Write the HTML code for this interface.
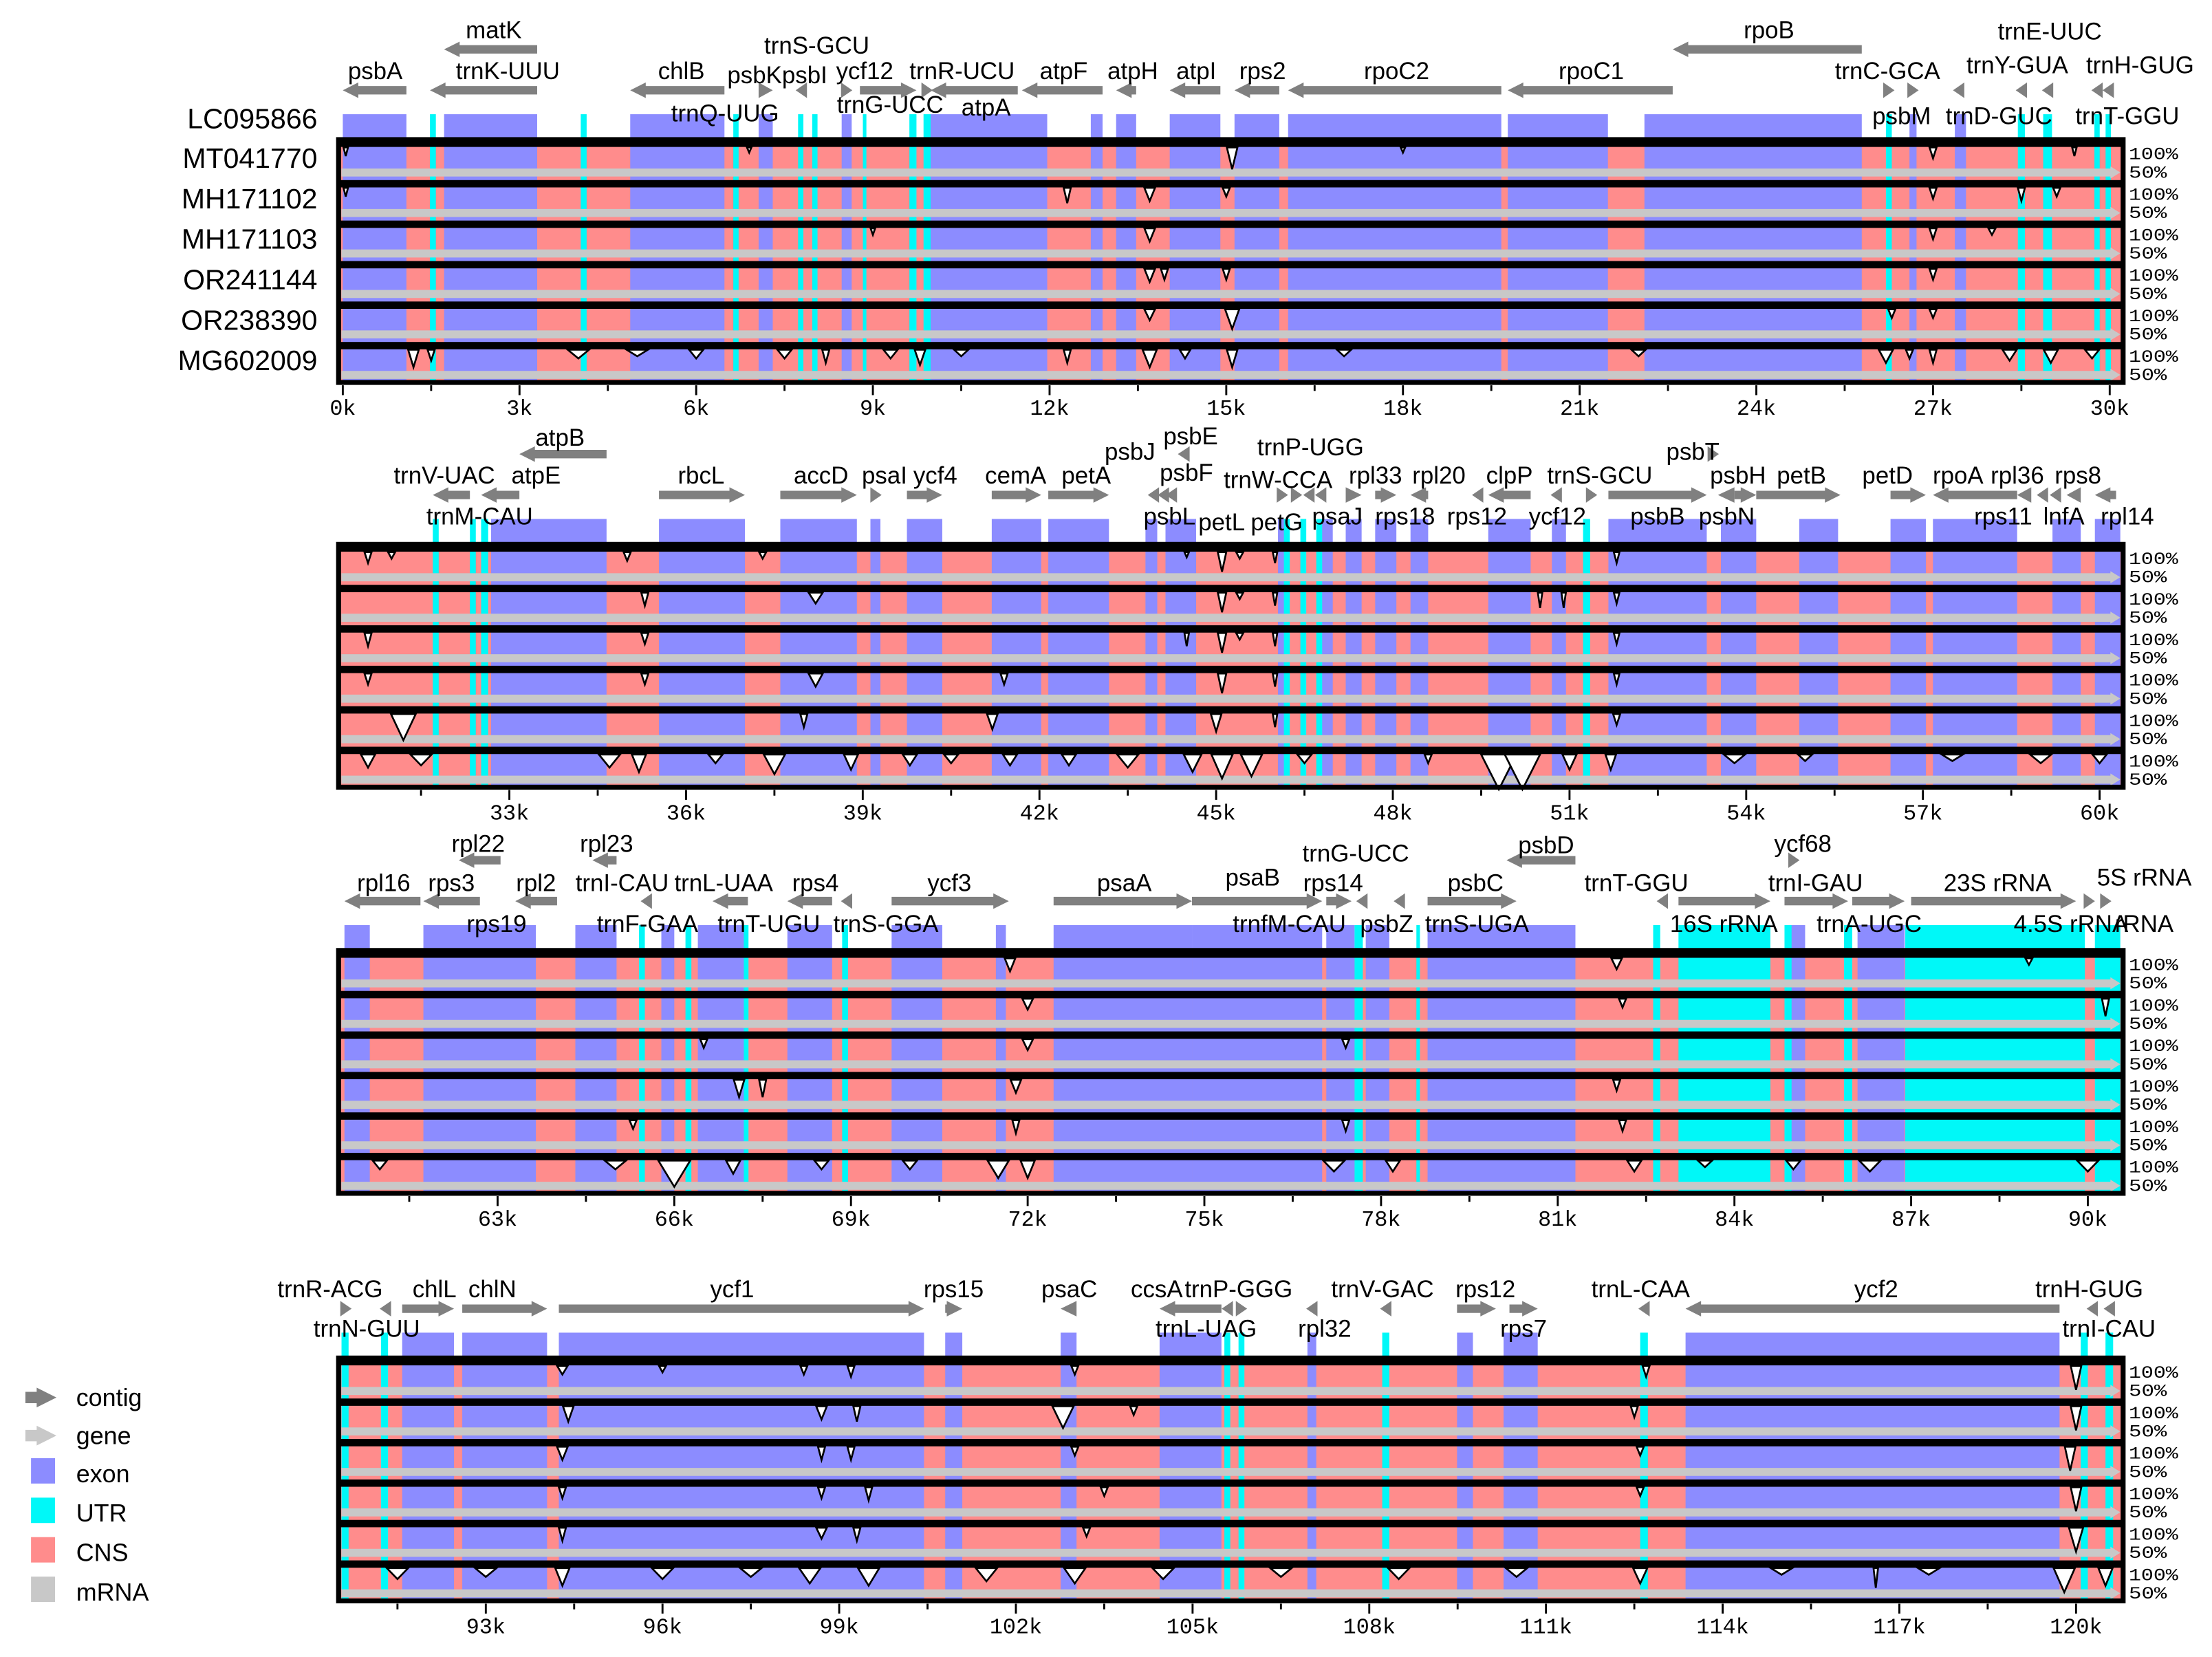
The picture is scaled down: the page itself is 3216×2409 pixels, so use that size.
<!DOCTYPE html>
<html><head><meta charset="utf-8"><title>mVISTA plot</title>
<style>
html,body{margin:0;padding:0;background:#fff;}
svg{display:block;}
text{font-family:"Liberation Sans",Arial,sans-serif;}
.mono{font-family:"Liberation Mono","DejaVu Sans Mono",monospace;}
</style></head>
<body>
<svg id="chart" xmlns="http://www.w3.org/2000/svg" width="3216" height="2409" viewBox="0 0 1568 1175" preserveAspectRatio="none">
<g id="legend">
  <g><polygon points="18,987 26,987 26,984 40,991 26,998 26,995 18,995" fill="#808080"/><text x="54" y="997" font-size="17.5">contig</text></g>
  <g><polygon points="18,1014 26,1014 26,1011 40,1018 26,1025 26,1022 18,1022" fill="#c8c8c8"/><text x="54" y="1024" font-size="17.5">gene</text></g>
  <g><rect x="22" y="1034" width="17" height="18" fill="#8c8cff"/><text x="54" y="1051" font-size="17.5">exon</text></g>
  <g><rect x="22" y="1062" width="17" height="18" fill="#00f8f8"/><text x="54" y="1079" font-size="17.5">UTR</text></g>
  <g><rect x="22" y="1090" width="17" height="18" fill="#ff8c8c"/><text x="54" y="1107" font-size="17.5">CNS</text></g>
  <g><rect x="22" y="1118" width="17" height="18" fill="#c8c8c8"/><text x="54" y="1135" font-size="17.5">mRNA</text></g>
</g>
</svg>
<script>
// ---------- data ----------
const sampleNames = ["MT041770","MH171102","MH171103","OR241144","OR238390","MG602009"];
const referenceName = "LC095866";
const panelStarts = [0, 30.1, 60.3, 90.5];
const panelEnds = [30.3, 60.4, 90.6, 120.8];
const tickValues = [[0,3,6,9,12,15,18,21,24,27,30],[33,36,39,42,45,48,51,54,57,60],[63,66,69,72,75,78,81,84,87,90],[93,96,99,102,105,108,111,114,117,120]];
const tickLabels = [["0k","3k","6k","9k","12k","15k","18k","21k","24k","27k","30k"],["33k","36k","39k","42k","45k","48k","51k","54k","57k","60k"],["63k","66k","69k","72k","75k","78k","81k","84k","87k","90k"],["93k","96k","99k","102k","105k","108k","111k","114k","117k","120k"]];

const exons = [
 [[0,1.08],[1.72,3.3],[4.88,6.48],[7.06,7.3],[8.47,8.64],[9.98,11.96],[12.7,12.9],[13.13,13.47],[14.04,14.9],[15.14,15.9],[16.05,19.67],[19.78,21.48],[22.1,25.79],[26.6,26.72],[27.37,27.56]],
 [[32.69,34.65],[35.54,37.0],[37.6,38.9],[39.13,39.3],[39.75,40.35],[41.19,42.03],[42.15,43.18],[43.8,44.0],[44.14,44.66],[46.05,46.2],[46.77,46.98],[47.2,47.47],[47.7,48.06],[48.3,48.6],[49.62,50.34],[50.7,50.94],[51.66,53.33],[53.57,54.17],[54.9,55.56],[56.45,57.05],[57.17,58.6],[59.2,59.68],[59.92,60.4]],
 [[60.4,60.83],[61.74,63.65],[64.32,65.02],[65.78,66.0],[66.4,67.25],[67.92,68.68],[69.69,70.55],[71.46,71.63],[72.44,74.79],[74.79,77.0],[77.07,77.55],[77.74,78.14],[78.79,81.3],[84.92,85.2],[86.09,86.89]],
 [[91.58,92.46],[92.6,94.04],[94.24,100.44],[100.8,101.09],[102.76,103.03],[104.44,105.49],[106.95,107.1],[109.49,109.76],[110.28,110.86],[113.37,119.72]]
];
const utrs = [
 [[1.48,1.58],[4.04,4.14],[6.63,6.72],[7.73,7.82],[7.97,8.06],[8.83,8.88],[9.62,9.74],[9.86,9.98],[26.2,26.3],[28.44,28.56],[28.87,29.02],[29.74,29.83],[29.93,30.02]],
 [[31.7,31.8],[32.33,32.43],[32.52,32.64],[46.15,46.25],[46.43,46.53],[46.7,46.8],[51.23,51.35]],
 [[65.4,65.5],[66.19,66.29],[67.18,67.26],[68.85,68.95],[77.55,77.69],[78.6,78.66],[82.62,82.74],[83.05,84.61],[84.85,84.97],[85.86,86.0],[86.9,89.95],[90.12,90.6]],
 [[90.55,90.67],[91.22,91.34],[105.54,105.64],[105.78,105.88],[108.22,108.34],[112.6,112.73],[120.08,120.2],[120.5,120.63]]
];
const genes = [
 [[0,1.08,-1,0],[1.48,3.3,-1,0],[1.72,3.3,-1,1],[4.88,6.48,-1,0],[7.06,7.3,1,0],[7.7,7.87,-1,0],[8.47,8.64,1,0],[8.78,9.74,1,0],[9.86,9.98,1,0],[9.98,11.46,-1,0],[11.53,12.9,-1,0],[13.13,13.47,-1,0],[14.04,14.9,-1,0],[15.14,15.9,-1,0],[16.05,19.67,-1,0],[19.78,22.58,-1,0],[22.58,25.79,-1,1],[26.2,26.3,1,0],[26.6,26.72,1,0],[27.37,27.5,-1,0],[28.44,28.56,-1,0],[28.87,29.02,-1,0],[29.74,29.83,-1,0],[29.93,30.02,-1,0]],
 [[31.7,32.33,-1,0],[32.52,33.17,-1,0],[33.17,34.65,-1,1],[35.54,37.0,1,0],[37.6,38.9,1,0],[39.13,39.32,1,0],[39.75,40.35,1,0],[41.19,42.03,1,0],[42.15,43.18,1,0],[43.87,44.0,-1,0],[44.04,44.17,-1,0],[44.18,44.3,-1,0],[44.35,44.55,-1,1],[46.05,46.2,1,0],[46.29,46.44,1,0],[46.5,46.65,-1,0],[46.7,46.85,-1,0],[47.2,47.47,1,0],[47.7,48.06,1,0],[48.3,48.6,-1,0],[49.38,49.5,-1,0],[49.62,50.34,-1,0],[50.7,50.85,-1,0],[51.3,51.45,1,0],[51.66,53.33,1,0],[53.38,53.5,1,1],[53.52,53.8,-1,0],[53.8,54.17,1,0],[54.17,55.6,1,0],[56.45,57.05,1,0],[57.17,58.6,-1,0],[58.6,58.84,-1,0],[58.96,59.1,-1,0],[59.2,59.3,-1,0],[59.44,59.68,-1,0],[59.92,60.28,-1,0]],
 [[60.4,61.69,-1,0],[61.74,62.7,-1,0],[62.34,63.05,-1,1],[63.3,64.01,-1,0],[64.61,65.02,-1,1],[65.45,65.6,-1,0],[66.65,67.25,-1,0],[67.92,68.68,-1,0],[68.85,69.0,-1,0],[69.69,71.68,1,0],[72.44,74.79,1,0],[74.79,77.0,1,0],[77.07,77.5,1,0],[77.6,77.75,-1,0],[78.22,78.4,-1,0],[78.79,80.3,1,0],[80.13,81.3,-1,1],[82.7,82.85,-1,0],[83.05,84.61,1,0],[84.92,85.1,1,1],[84.85,85.93,1,0],[86.0,86.89,1,0],[87.0,89.8,1,0],[89.95,90.1,1,0],[90.23,90.38,1,0]],
 [[90.55,90.7,1,0],[91.22,91.37,-1,0],[91.58,92.46,1,0],[92.6,94.04,1,0],[94.24,100.44,1,0],[100.8,101.09,1,0],[102.76,103.03,-1,0],[104.44,105.49,-1,0],[105.54,105.64,-1,0],[105.78,105.88,1,0],[106.95,107.1,-1,0],[108.22,108.34,-1,0],[109.49,110.15,1,0],[110.38,110.86,1,0],[112.6,112.73,-1,0],[113.37,119.72,-1,0],[120.2,120.35,-1,0],[120.5,120.63,-1,0]]
];
const geneLabels = [
 [["psbA",266,56],["matK",350,27],["trnK-UUU",360,56],["chlB",483,56],["trnS-GCU",579,38],["psbKpsbI",551,59],["ycf12",613,56],["trnR-UCU",682,56],["atpF",754,56],["atpH",803,56],["atpI",848,56],["rps2",895,56],["rpoC2",990,56],["rpoC1",1128,56],["rpoB",1254,27],["trnC-GCA",1338,56],["trnE-UUC",1453,28],["trnY-GUA",1430,52],["trnH-GUG",1517,52],["trnQ-UUG",514,86],["trnG-UCC",631,80],["atpA",699,82],["psbM",1348,88],["trnD-GUC",1417,88],["trnT-GGU",1508,88]],
 [["atpB",397,316],["trnV-UAC",315,343],["atpE",380,343],["trnM-CAU",340,372],["rbcL",497,343],["accD",582,343],["psaI",627,343],["ycf4",663,343],["cemA",720,343],["petA",770,343],["psbJ",801,326],["psbE",844,315],["psbF",841,341],["psbL",829,372],["petL",866,376],["petG",905,376],["trnW-CCA",906,346],["trnP-UGG",929,323],["psaJ",948,372],["rpl33",975,343],["rps18",996,372],["rpl20",1020,343],["rps12",1047,372],["clpP",1070,343],["ycf12",1104,372],["trnS-GCU",1134,343],["psbT",1200,326],["psbB",1175,372],["psbH",1232,343],["petB",1277,343],["psbN",1224,372],["petD",1338,343],["rpoA",1388,343],["rpl36",1430,343],["rps8",1473,343],["rps11",1420,372],["lnfA",1463,372],["rpl14",1508,372]],
 [["rpl16",272,632],["rpl22",339,604],["rps3",320,632],["rpl2",380,632],["rps19",352,661],["rpl23",430,604],["trnI-CAU",441,632],["trnF-GAA",459,661],["trnL-UAA",513,632],["trnT-UGU",545,661],["rps4",578,632],["trnS-GGA",628,661],["ycf3",673,632],["psaA",797,632],["psaB",888,628],["trnfM-CAU",914,661],["trnG-UCC",961,611],["rps14",945,632],["psbZ",983,661],["trnS-UGA",1047,661],["psbC",1046,632],["psbD",1096,605],["trnT-GGU",1160,632],["16S rRNA",1222,661],["ycf68",1278,604],["trnI-GAU",1287,632],["trnA-UGC",1325,661],["23S rRNA",1416,632],["4.5S rRNA",1468,661],["5S rRNA",1520,628],["rRNA",1520,661]],
 [["trnR-ACG",234,920],["trnN-GUU",260,948],["chlL",308,920],["chlN",349,920],["ycf1",519,920],["rps15",676,920],["psaC",758,920],["ccsA",820,920],["trnP-GGG",878,920],["trnL-UAG",855,948],["trnV-GAC",980,920],["rpl32",939,948],["rps12",1053,920],["rps7",1080,948],["trnL-CAA",1163,920],["ycf2",1330,920],["trnH-GUG",1481,920],["trnI-CAU",1495,948]]
];
const dips = [
 [
  [[15.1,50,0.15],[27.0,75,0.1],[6.9,88,0.05],[29.4,80,0.05],[18.0,88,0.05],[0.05,80,0.05]],
  [[12.3,65,0.1],[13.7,70,0.15],[15.0,80,0.1],[27.0,75,0.1],[28.5,70,0.1],[29.1,80,0.1],[0.05,80,0.05]],
  [[13.7,70,0.15],[27.0,75,0.1],[28.0,85,0.1],[9.0,85,0.05]],
  [[13.7,70,0.15],[15.0,75,0.1],[27.0,75,0.1],[13.95,75,0.1]],
  [[15.1,55,0.2],[13.7,75,0.15],[27.0,80,0.1],[26.3,80,0.1]],
  [[1.2,60,0.15],[1.5,75,0.1],[4.0,80,0.3],[5.0,85,0.3],[6.0,80,0.2],[7.5,80,0.2],[8.2,70,0.1],[9.3,80,0.2],[9.8,65,0.15],[10.5,85,0.2],[12.3,70,0.1],[13.7,60,0.2],[14.3,80,0.15],[15.1,60,0.15],[17.0,85,0.2],[22.0,85,0.2],[26.2,70,0.2],[26.6,80,0.1],[27.0,70,0.1],[28.3,75,0.2],[29.0,70,0.2],[29.7,80,0.2]]
 ],
 [
  [[30.6,75,0.1],[31.0,85,0.1],[35.0,80,0.1],[37.3,85,0.1],[45.1,55,0.12],[45.4,85,0.1],[44.5,88,0.05],[46.0,75,0.05],[51.8,75,0.08]],
  [[35.3,70,0.1],[38.2,75,0.2],[45.1,55,0.12],[45.4,85,0.1],[46.0,70,0.05],[50.5,65,0.05],[50.9,65,0.05],[51.8,75,0.08]],
  [[30.6,70,0.1],[35.3,75,0.1],[44.5,70,0.05],[45.1,55,0.12],[45.4,85,0.1],[46.0,70,0.05],[51.8,75,0.08]],
  [[30.6,75,0.1],[35.3,75,0.1],[38.2,70,0.2],[41.4,75,0.1],[45.1,55,0.12],[46.0,70,0.05],[51.8,75,0.08]],
  [[31.2,40,0.35],[38.0,70,0.1],[41.2,65,0.15],[45.0,60,0.15],[46.0,70,0.05],[51.8,75,0.1]],
  [[30.6,70,0.2],[31.5,75,0.3],[34.7,70,0.3],[35.2,60,0.2],[36.5,80,0.2],[37.5,55,0.3],[38.8,65,0.2],[39.8,75,0.2],[40.5,80,0.2],[41.5,75,0.2],[42.5,75,0.2],[43.5,70,0.3],[44.6,60,0.25],[45.1,45,0.3],[45.6,50,0.3],[46.5,80,0.2],[48.6,80,0.1],[49.8,20,0.5],[50.2,20,0.5],[51.0,65,0.2],[51.7,65,0.15],[53.8,80,0.3],[55.0,85,0.2],[57.5,85,0.3],[59.0,80,0.3],[60.0,80,0.2]]
 ],
 [
  [[71.7,70,0.15],[82.0,75,0.15],[89.0,85,0.1]],
  [[72.0,75,0.15],[90.3,60,0.1],[82.1,80,0.1]],
  [[66.5,80,0.1],[72.0,75,0.15],[77.4,80,0.1]],
  [[67.1,60,0.15],[67.5,60,0.1],[71.8,70,0.15],[82.0,75,0.1]],
  [[65.3,80,0.1],[71.8,70,0.1],[77.4,75,0.1],[82.1,75,0.1]],
  [[61.0,80,0.2],[65.0,80,0.3],[66.0,40,0.45],[67.0,70,0.2],[68.5,80,0.2],[70.0,80,0.2],[71.5,60,0.3],[72.0,60,0.2],[77.2,75,0.3],[78.2,75,0.2],[82.3,75,0.2],[83.5,85,0.2],[85.0,80,0.2],[86.3,75,0.3],[90.0,75,0.3]]
 ],
 [
  [[94.3,80,0.15],[96.0,85,0.1],[98.4,80,0.1],[99.2,75,0.1],[103.0,80,0.1],[112.7,75,0.1],[120.0,45,0.15]],
  [[94.4,65,0.15],[98.7,70,0.15],[99.3,65,0.1],[102.8,50,0.3],[104.0,80,0.1],[112.5,75,0.1],[120.0,45,0.15]],
  [[94.3,70,0.15],[98.7,70,0.1],[99.2,70,0.1],[103.0,80,0.1],[112.6,80,0.1],[119.9,45,0.15]],
  [[94.3,75,0.1],[98.7,75,0.1],[99.5,70,0.1],[103.5,80,0.1],[112.6,80,0.1],[120.0,45,0.15]],
  [[94.3,70,0.1],[98.7,75,0.15],[99.3,70,0.1],[103.2,80,0.1],[120.0,45,0.2]],
  [[91.5,75,0.3],[93.0,80,0.3],[94.3,60,0.2],[96.0,75,0.3],[97.5,80,0.3],[98.5,65,0.3],[99.5,60,0.3],[101.5,70,0.3],[103.0,65,0.3],[104.5,75,0.3],[106.5,80,0.3],[108.5,75,0.3],[110.5,80,0.3],[112.6,65,0.2],[115.0,85,0.3],[116.6,55,0.05],[117.5,85,0.3],[119.8,45,0.3],[120.5,60,0.2]]
 ]
];
// ---------- drawing ----------
const NS = "http://www.w3.org/2000/svg";
const svg = document.getElementById("chart");
const legend = document.getElementById("legend");
const panelTops = [99, 386, 674, 963];
const boxLeft = 240, boxRight = 1505, trackH = 28.7, pxPerK = 41.75;
const panelX0 = [243, 240, 240, 240];
function mk(tag, attrs){ const e=document.createElementNS(NS,tag); for(const k in attrs) e.setAttribute(k,attrs[k]); svg.insertBefore(e, legend); return e; }
function add(tag, attrs, parent){ const e=document.createElementNS(NS,tag); for(const k in attrs) e.setAttribute(k,attrs[k]); parent.appendChild(e); return e; }
function xScale(p,k){ return panelX0[p] + (k-panelStarts[p])*pxPerK; }
function clampX(x){ return Math.max(boxLeft+2, Math.min(boxRight-2, x)); }

for(let p=0;p<4;p++){
  const top = panelTops[p];
  const g = mk("g",{});
  
  
  const boxBottom = top + trackH*6;
  exons[p].forEach(s=>{
    const x1=clampX(xScale(p,s[0])), x2=clampX(xScale(p,s[1]));
    const r=add("rect",{x:x1,y:top-18,width:Math.max(1,x2-x1),height:18,fill:"#8c8cff"},g);
    
    
  });
  utrs[p].forEach(s=>{
    const x1=clampX(xScale(p,s[0])), x2=clampX(xScale(p,s[1]));
    const r=add("rect",{x:x1,y:top-18,width:Math.max(2.5,x2-x1),height:18,fill:"#00f8f8"},g);
    
    
  });
  const bg=add("rect",{x:boxLeft,y:top,width:boxRight-boxLeft,height:boxBottom-top,fill:"#ff8c8c"},g);
  
  
  exons[p].forEach(s=>{
    const x1=clampX(xScale(p,s[0])), x2=clampX(xScale(p,s[1]));
    const r=add("rect",{x:x1,y:top,width:Math.max(1,x2-x1),height:boxBottom-top,fill:"#8c8cff"},g);
    
    
  });
  utrs[p].forEach(s=>{
    const x1=clampX(xScale(p,s[0])), x2=clampX(xScale(p,s[1]));
    const r=add("rect",{x:x1,y:top,width:Math.max(2.5,x2-x1),height:boxBottom-top,fill:"#00f8f8"},g);
    
    
  });
  for(let t=0;t<6;t++){
    const ty = top + t*trackH;
    const band=add("polygon",{points:`${boxLeft+2},${ty+20.5} ${boxRight-9},${ty+20.5} ${boxRight-9},${ty+19} ${boxRight-2},${ty+23.3} ${boxRight-9},${ty+27.6} ${boxRight-9},${ty+26.2} ${boxLeft+2},${ty+26.2}`,fill:"#c8c8c8"},g);
    
    
    dips[p][t].forEach(d=>{
      const cx=xScale(p,d[0]); const hw=Math.max(1.6,d[2]*pxPerK*0.6);
      const y100=ty+5.5, yv=ty+5.5+(100-d[1])/50*15.5;
      const poly=add("polygon",{points:`${cx-hw},${y100} ${cx},${yv} ${cx+hw},${y100}`,fill:"#fff",stroke:"#000","stroke-width":1.3,"stroke-linejoin":"miter"},g);
      
      
    });
    const bb=add("rect",{x:boxLeft,y:ty,width:boxRight-boxLeft,height:5.2,fill:"#000"},g);
    
    
    if(p===0){
      const nm=add("text",{x:225,y:ty+20,"font-size":20,"text-anchor":"end"},g);
      nm.textContent = sampleNames[t];
      
      
    }
    const l1=add("text",{x:1509,y:ty+14,"font-size":12,class:"mono",textLength:35,lengthAdjust:"spacingAndGlyphs"},g);
    l1.textContent="100%";
    
    
    const l2=add("text",{x:1509,y:ty+27,"font-size":12,class:"mono",textLength:27,lengthAdjust:"spacingAndGlyphs"},g);
    l2.textContent="50%";
    
    
  }
  const box=add("rect",{x:boxLeft,y:top,width:boxRight-boxLeft,height:boxBottom-top,fill:"none",stroke:"#000","stroke-width":3.5},g);
  
  
  for(let k=Math.ceil(panelStarts[p]/1.5)*1.5;k<=panelEnds[p];k+=1.5){
    const x=xScale(p,k); if(x<boxLeft||x>boxRight) continue;
    const major = Math.abs(k/3-Math.round(k/3))<1e-6;
    const tk=add("line",{x1:x,x2:x,y1:boxBottom+2,y2:boxBottom+(major?9:6),stroke:"#000","stroke-width":1.4},g);
    
    
  }
  tickValues[p].forEach((v,i)=>{
    const tl=add("text",{x:xScale(p,v),y:boxBottom+23,"font-size":15.5,class:"mono","text-anchor":"middle"},g);
    tl.textContent = tickLabels[p][i];
    
    
  });
  const rowY = [top-35, top-64];
  genes[p].forEach(gn=>{
    let x1=xScale(p,gn[0]), x2=xScale(p,gn[1]);
    const y=rowY[gn[3]];
    let len=x2-x1; if(len<8){ const c=(x1+x2)/2; x1=c-4; x2=c+4; len=8; }
    const hl=Math.min(11,len);
    let pts;
    if(gn[2]>0){
      const hb=x2-hl;
      pts = len>hl+1 ? `${x1},${y-3} ${hb},${y-3} ${hb},${y-5.5} ${x2},${y} ${hb},${y+5.5} ${hb},${y+3} ${x1},${y+3}` : `${x1},${y-5.5} ${x2},${y} ${x1},${y+5.5}`;
    } else {
      const hb=x1+hl;
      pts = len>hl+1 ? `${x2},${y-3} ${hb},${y-3} ${hb},${y-5.5} ${x1},${y} ${hb},${y+5.5} ${hb},${y+3} ${x2},${y+3}` : `${x2},${y-5.5} ${x1},${y} ${x2},${y+5.5}`;
    }
    const a=add("polygon",{points:pts,fill:"#808080"},g);
    
    
  });
  geneLabels[p].forEach(l=>{
    const t=add("text",{x:l[1],y:l[2],"font-size":17,"text-anchor":"middle"},g);
    t.textContent=l[0];
    
    
  });
  if(p===0){
    const rn=add("text",{x:225,y:top-8,"font-size":20,"text-anchor":"end"},g);
    rn.textContent=referenceName;
    
    
  }
}
</script>
</body></html>
